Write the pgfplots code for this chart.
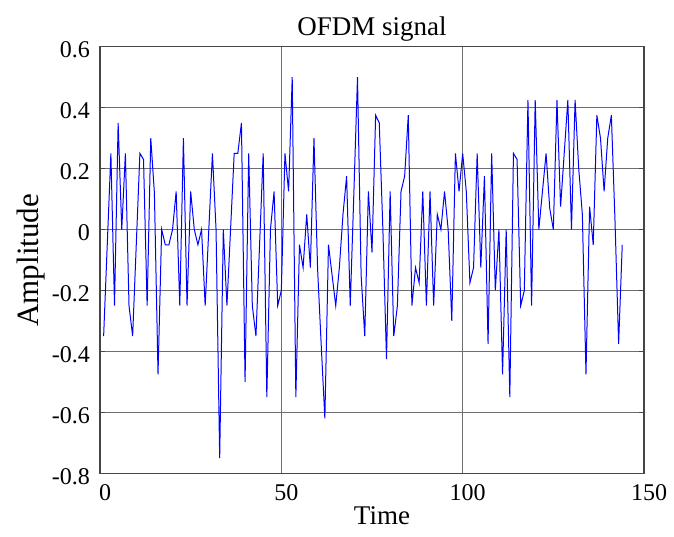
\documentclass[border=0pt]{standalone}
\usepackage{pgfplots}
\pgfplotsset{compat=1.18}
\usepackage{fontspec}
\setmainfont{Liberation Serif}
\definecolor{gridc}{RGB}{110,110,110}
\definecolor{boxc}{RGB}{70,70,70}

\begin{document}
\begin{tikzpicture}[x=1pt,y=1pt]
\useasboundingbox (-100,-62.7) rectangle (574,473.3);
\begin{axis}[
    at={(0,0)}, anchor=south west,
    scale only axis,
    width=544pt, height=426.6pt,
    xmin=0, xmax=150,
    ymin=-0.8, ymax=0.6,
    xtick={0,50,100,150},
    ytick={-0.8,-0.6,-0.4,-0.2,0,0.2,0.4,0.6},
    yticklabels={-0.8,-0.6,-0.4,-0.2,0,0.2,0.4,0.6},
    xticklabels={0,50,100,150},
    grid=major,
    major grid style={gridc, line width=0.9pt},
    axis line style={boxc, line width=1.6pt},
    tick align=inside,
    major tick length=5pt,
    xtick style={draw=none},
    ytick style={boxc, line width=1.3pt},
    ticklabel style={font=\rmfamily\fontsize{24}{28}\selectfont},
    yticklabel style={inner sep=0pt, xshift=-10pt, yshift=-3pt},
    xticklabel style={inner sep=0pt, yshift=-11pt, xshift=5pt},
    /pgf/number format/assume math mode=true,
  ]
  \addplot[blue, line width=1pt] coordinates {
    (1,-0.35) (2,-0.05) (3,0.25) (4,-0.25) (5,0.35) (6,0) (7,0.25) (8,-0.25)
    (9,-0.35) (10,-0.05) (11,0.25) (12,0.23) (13,-0.25) (14,0.30) (15,0.12)
    (16,-0.475) (17,0) (18,-0.05) (19,-0.05) (20,0) (21,0.125) (22,-0.25)
    (23,0.30) (24,-0.25) (25,0.125) (26,0) (27,-0.05) (28,0) (29,-0.25)
    (30,0) (31,0.25) (32,0) (33,-0.75) (34,0) (35,-0.25) (36,0) (37,0.25)
    (38,0.25) (39,0.35) (40,-0.5) (41,0.25) (42,-0.25) (43,-0.35) (44,-0.05)
    (45,0.25) (46,-0.55) (47,0) (48,0.125) (49,-0.25) (50,-0.2) (51,0.25)
    (52,0.125) (53,0.5) (54,-0.55) (55,-0.05) (56,-0.125) (57,0.05)
    (58,-0.125) (59,0.30) (60,-0.13) (61,-0.38) (62,-0.62) (63,-0.05)
    (64,-0.15) (65,-0.25) (66,-0.125) (67,0.05) (68,0.175) (69,-0.25)
    (70,0.12) (71,0.5) (72,-0.15) (73,-0.35) (74,0.125) (75,-0.075)
    (76,0.375) (77,0.35) (78,0) (79,-0.425) (80,0.125) (81,-0.35)
    (82,-0.25) (83,0.125) (84,0.175) (85,0.375) (86,-0.25) (87,-0.125)
    (88,-0.175) (89,0.125) (90,-0.25) (91,0.125) (92,-0.25) (93,0.05)
    (94,0) (95,0.125) (96,0) (97,-0.3) (98,0.25) (99,0.125) (100,0.25)
    (101,0.125) (102,-0.175) (103,-0.125) (104,0.25) (105,-0.125)
    (106,0.175) (107,-0.375) (108,0.25) (109,-0.2) (110,0) (111,-0.475)
    (112,0) (113,-0.55) (114,0.25) (115,0.23) (116,-0.25) (117,-0.2)
    (118,0.425) (119,-0.25) (120,0.425) (121,0) (122,0.125) (123,0.25)
    (124,0.07) (125,0) (126,0.425) (127,0.075) (128,0.25) (129,0.425)
    (130,0) (131,0.425) (132,0.2) (133,0.05) (134,-0.475) (135,0.075)
    (136,-0.05) (137,0.375) (138,0.30) (139,0.125) (140,0.30) (141,0.375)
    (142,0.03) (143,-0.375) (144,-0.05)
  };
\end{axis}
\node[anchor=base, font=\fontsize{27}{32}\selectfont] at (272,438) {OFDM signal};
\node[anchor=base, font=\fontsize{27}{32}\selectfont] at (282,-51) {Time};
\node[anchor=base, rotate=90, font=\fontsize{31}{36}\selectfont] at (-61,213) {Amplitude};
\end{tikzpicture}
\end{document}
